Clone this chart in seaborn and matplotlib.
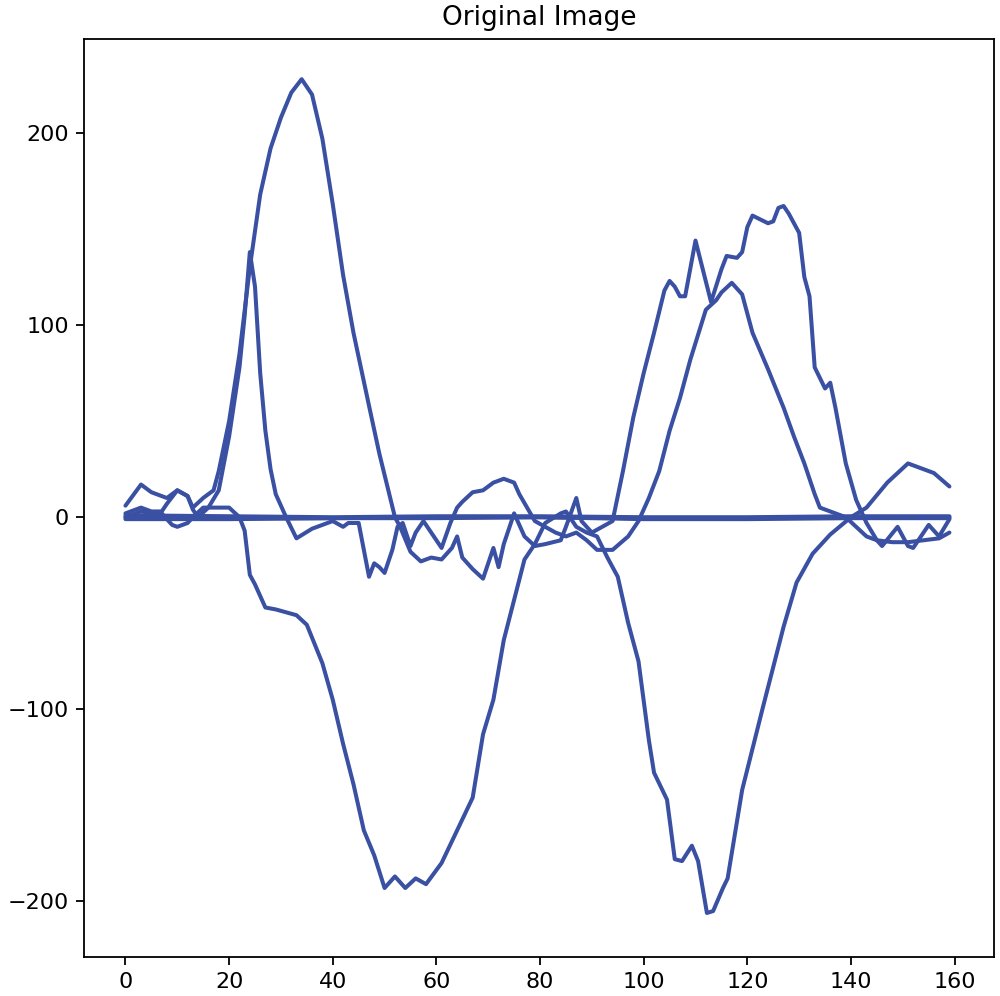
import matplotlib
matplotlib.use("Agg")
import matplotlib.pyplot as plt
import seaborn as sns
import pandas as pd

# values (sample index -> signal value)
peak_a_x = [0, 3, 5, 8, 10, 12, 13, 15, 17, 18, 20, 22, 24, 26, 28, 30, 32, 34, 36, 38,
            40, 42, 44, 47, 49, 52, 53, 55, 57, 59, 61, 63, 64, 65, 67, 69, 71, 72, 73, 75,
            77, 79, 81, 84, 85, 87, 88, 90, 92, 94, 96, 98, 100, 102, 104, 105, 106, 107, 108, 110,
            113, 115, 116, 118, 119, 120, 121, 124, 125, 126, 127, 128, 130, 131, 132, 133, 135, 136, 137, 139,
            141, 143, 145, 146, 149, 151, 152, 155, 157, 159]
peak_a_y = [6, 17, 13, 10, 14, 11, 5, 10, 14, 24, 50, 85, 130, 168, 192, 208, 221, 228, 220, 197,
            163, 126, 96, 58, 33, 0, -5, -18, -23, -21, -22, -16, -10, -21, -27, -32, -16, -26, -14, 2,
            -10, -15, -14, -12, -5, 10, -2, -8, -5, -2, 24, 52, 75, 96, 118, 123, 120, 115, 115, 144,
            112, 129, 136, 135, 138, 151, 157, 153, 154, 161, 162, 158, 148, 125, 115, 78, 67, 70, 57, 28,
            9, -3, -12, -15, -5, -15, -16, -4, -10, -1]

peak_b_x = [0, 3, 5, 7, 8, 10, 12, 13, 14, 16, 18, 20, 22, 23, 24, 25, 26, 27, 28, 29,
            31, 33, 36, 38, 40, 42, 43, 45, 46, 47, 48, 49, 50, 51.5, 52.5, 53.5, 55, 56, 57.5, 59,
            61, 62.7, 64, 65, 67, 69, 71, 73, 75, 76, 77.5, 79, 81, 83, 85, 87, 89, 91, 94, 97,
            99, 101, 103, 105, 107, 109, 112, 114, 115, 117, 119, 121, 124, 127, 129, 131, 133, 134, 136, 139,
            141, 143, 145, 148, 151, 154, 157, 159]
peak_b_y = [2, 5, 3, 3, 7, 14, 11, 4, 0, 5, 14, 42, 78, 105, 138, 120, 75, 45, 25, 12,
            0, -11, -6, -4, -2, -5, -3, -3, -17, -31, -24, -26, -29, -17, -5, -3, -15, -8, -2, -8,
            -16, -3, 5, 8, 13, 14, 18, 20, 18, 12, 5, -2, -5, -8, -10, -8, -12, -17, -17, -10,
            -2, 10, 24, 45, 62, 82, 108, 113, 117, 122, 116, 96, 77, 57, 42, 28, 12, 5, 3, 0,
            -5, -10, -12, -13, -13, -12, -11, -8]

trough_x = [0, 3, 5, 7, 9, 10, 12, 13, 15, 17, 19, 20, 22, 23, 24, 25, 27, 29, 33, 35,
            38, 40, 42, 44, 46, 48, 50, 52, 54, 56, 58, 61, 64, 67, 69, 71, 73, 75, 77, 79,
            81, 84, 85, 87, 89, 91, 93, 95, 97, 99, 101, 102, 104.5, 106, 107.4, 109.3, 110.5, 112.2, 113.4, 115.3,
            116.2, 119, 123, 127, 129.5, 132.6, 136, 140, 143, 147, 151, 156, 159]
trough_y = [0, 3, 2, 2, -4, -5, -3, 0, 5, 5, 5, 5, 0, -7, -30, -35, -47, -48, -51, -56,
            -76, -95, -118, -139, -163, -176, -193, -187, -193, -188, -191, -180, -163, -146, -113, -95, -64, -43, -22, -14,
            -3, 2, 3, -5, -8, -10, -21, -31, -55, -75, -116, -133, -147, -178, -179, -171, -179, -206, -205, -193,
            -188, -142, -99, -57, -34, -19, -9, 0, 5, 18, 28, 23, 16]

flat_x = [0, 20, 40, 60, 80, 100, 120, 140, 159]
flat_1_y = [-1, -1, -0.5, 0, 0, -0.5, -0.5, 0, 0]
flat_2_y = [1, 0.5, 0, 0.5, 0.5, 0, 0, 0.5, 0.5]
flat_3_y = [0, -0.5, -0.5, -0.5, 0, -1, -1, -0.5, -0.5]

line_color = "#3a50a3"

series = [
    (peak_a_x, peak_a_y),
    (peak_b_x, peak_b_y),
    (trough_x, trough_y),
    (flat_x, flat_1_y),
    (flat_x, flat_2_y),
    (flat_x, flat_3_y),
]

plt.rcParams["font.family"] = ["DejaVu Sans"]
fig = plt.figure(figsize=(10, 9.96), dpi=100)
ax = fig.add_axes([0.084, 0.039, 0.91, 0.922])

for xs, ys in series:
    df = pd.DataFrame({"t": xs, "v": ys})
    sns.lineplot(data=df, x="t", y="v", color=line_color, linewidth=2.9,
                 sort=False, estimator=None, ax=ax,
                 solid_joinstyle="round", solid_capstyle="round")

ax.set_xlim(-8, 167.6)
ax.set_ylim(-229, 249)
ax.set_xticks([0, 20, 40, 60, 80, 100, 120, 140, 160])
ax.set_yticks([-200, -100, 0, 100, 200])
ax.set_xlabel("")
ax.set_ylabel("")
ax.tick_params(labelsize=16, length=5.5, width=1.3, pad=5.5)
for sp in ax.spines.values():
    sp.set_linewidth(1.3)
ax.set_title("Original Image", fontsize=19, pad=10)

fig.savefig("out.png", dpi=100)
